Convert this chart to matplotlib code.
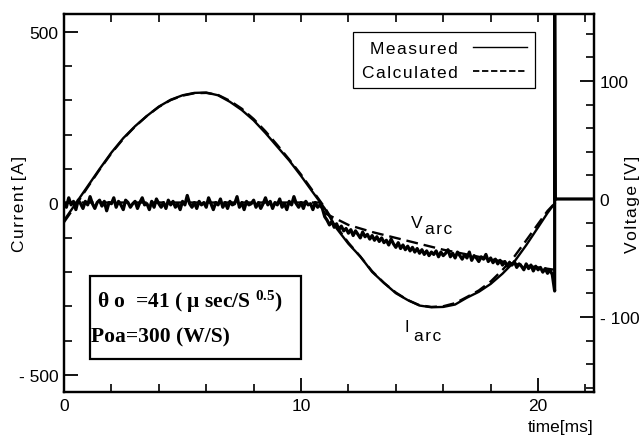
import numpy as np
import matplotlib
matplotlib.use("Agg")
import matplotlib.pyplot as plt
from matplotlib.lines import Line2D
from matplotlib.patches import Rectangle
from matplotlib.ticker import MultipleLocator

plt.rcParams['font.family'] = ['Liberation Sans', 'DejaVu Sans']

# ---------------- data ----------------
# arc current [A]
t_cur = [0.0, 0.5, 1.0, 1.5, 2.0, 2.5, 3.0, 3.5, 4.0, 4.5, 5.0, 5.5, 6.0, 6.5,
         7.0, 7.5, 8.0, 8.5, 9.0, 9.5, 10.0, 10.5, 11.0, 11.5, 12.0, 12.5,
         13.0, 13.5, 14.0, 14.5, 15.0, 15.5, 16.0, 16.5, 17.0, 17.5, 18.0,
         18.5, 19.0, 19.5, 20.0, 20.4, 20.7]
i_meas = [-50, 0, 50, 100, 148, 190, 225, 255, 282, 302, 315, 322, 323, 315,
          296, 272, 242, 205, 165, 125, 80, 32, -15, -73, -118, -155,
          -200, -232, -262, -282, -298, -303, -302, -295, -275, -258, -235,
          -205, -170, -122, -70, -28, 0]
i_calc = [-55, -5, 47, 98, 146, 188, 224, 255, 281, 301, 314, 321, 322, 316,
          299, 276, 246, 210, 170, 128, 84, 36, -12, -68, -115, -155,
          -198, -232, -260, -282, -297, -302, -300, -291, -273, -254, -228,
          -194, -155, -108, -60, -22, 0]

# measured arc voltage [V], sampled every 0.1 ms
t_volt_a = np.linspace(0.0, 10.8, 109)
v_meas_a = [-3, -7, 1, -5, -2, -9, -1, -4, -8, -2,
            -5, 2, -4, -8, -3, -1, -6, -2, -10, -3,
            -4, 1, -7, -2, -5, -9, -1, -3, -7, -4,
            -2, -8, -3, 1, -5, -4, -9, -2, -7, 0,
            -4, -7, -3, -8, -1, -5, -2, -7, -4, -9,
            -2, -5, 3, -4, -7, -3, -8, -2, -5, -3,
            -7, 1, -4, -9, -3, -5, 0, -7, -3, -8,
            -2, -5, -4, 2, -7, -3, -9, -2, -5, -4,
            -1, -7, -3, -8, -4, 1, -5, -2, -8, -3,
            -5, 0, -7, -4, -9, -2, -5, 2, -4, -7,
            -3, -8, -2, -5, -4, -9, -3, -7, -5]
t_volt_b = np.linspace(10.9, 20.6, 98)
v_meas_b = [-8, -15, -18, -22, -19, -24, -21, -26, -23, -27,
            -25, -29, -26, -31, -27, -30, -33, -28, -32, -30,
            -34, -31, -35, -32, -36, -33, -37, -35, -39, -34,
            -38, -41, -37, -42, -39, -43, -40, -44, -41, -45,
            -42, -46, -43, -47, -44, -48, -45, -47, -44, -49,
            -45, -48, -46, -43, -49, -46, -50, -45, -48, -51,
            -47, -50, -45, -52, -48, -50, -53, -49, -51, -47,
            -53, -50, -54, -51, -55, -52, -56, -53, -57, -54,
            -56, -53, -58, -55, -57, -60, -55, -59, -56, -61,
            -57, -60, -58, -62, -59, -63, -60, -64]
t_volt_end = [20.7, 20.7, 20.72, 22.4]
v_meas_end = [-78, 175, 0, 0]

# calculated arc voltage [V]
t_vcalc = [0.0, 10.8, 11.0, 12.0, 13.0, 14.0, 15.0, 16.0, 17.0, 18.0, 19.0,
           20.0, 20.7]
v_calc = [-3, -3, -12, -22, -28, -33, -38, -43, -47, -51, -55, -58, -60]

x_ticks = [0, 10, 20]
x_ticklabels = ["0", "10", "20"]
yl_ticks = [-500, 0, 500]
yl_ticklabels = ["- 500", "0", "500"]
yr_ticks = [-100, 0, 100]
yr_ticklabels = ["- 100", "0", "100"]
legend_labels = ["Measured", "Calculated"]


def spaced(s):
    return "\u200a".join(s)


# ---------------- figure ----------------
fig = plt.figure(figsize=(6.42, 4.39), dpi=100)
ax = fig.add_axes([64 / 642, 46 / 439, 530 / 642, 378 / 439])
ax2 = ax.twinx()

lw = 1.7
dash = (0, (5, 2.5))
ax.plot(t_cur, i_meas, color='black', lw=lw)
ax.plot(t_cur, i_calc, color='black', lw=lw, ls=dash)

t_v = list(t_volt_a) + list(t_volt_b) + t_volt_end
v_m = v_meas_a + v_meas_b + v_meas_end
ax2.plot(t_v, v_m, color='black', lw=2.3)
ax2.plot(t_vcalc, v_calc, color='black', lw=lw, ls=dash)

ax.set_xlim(0, 22.36)
ax.set_ylim(-550, 552)
ax2.set_ylim(-163.6, 156.8)

ax.set_xticks(x_ticks)
ax.set_xticklabels(x_ticklabels)
ax.set_yticks(yl_ticks)
ax.set_yticklabels(yl_ticklabels)
ax2.set_yticks(yr_ticks)
ax2.set_yticklabels(yr_ticklabels)
ax.xaxis.set_minor_locator(MultipleLocator(2))
ax.yaxis.set_minor_locator(MultipleLocator(100))
ax2.yaxis.set_minor_locator(MultipleLocator(20))

ax.tick_params(axis='both', which='major', direction='in', length=10, width=1.3,
               labelsize=12.5, pad=4)
ax.tick_params(axis='both', which='minor', direction='in', length=6, width=1.2)
ax2.tick_params(axis='y', which='major', direction='in', length=10, width=1.3,
                labelsize=12.5, pad=4)
ax2.tick_params(axis='y', which='minor', direction='in', length=6, width=1.2)
# top ticks at 2 ms steps
axt = ax.secondary_xaxis('top')
axt.set_xticks([2, 4, 6, 8, 10, 12, 14, 16, 18, 20, 22])
axt.tick_params(direction='in', length=6, width=1.2, labeltop=False)
axt.spines['top'].set_visible(False)

for a in (ax, ax2):
    for s in a.spines.values():
        s.set_linewidth(1.6)

ax.set_ylabel(spaced("Current") + " " + spaced("[A]"), fontsize=12.5)
ax.yaxis.set_label_coords(-0.070, 0.5)
ax2.set_ylabel(spaced("Voltage") + " " + spaced("[V]"), fontsize=12.5)
ax2.yaxis.set_label_coords(1.058, 0.5)
fig.text(561 / 642, 1 - 428 / 439, "time[ms]", fontsize=12.5,
         ha='center', va='center')

# legend
handles = [Line2D([], [], color='black', lw=1.0),
           Line2D([], [], color='black', lw=1.3, ls=(0, (3.5, 1.5)))]
leg = ax.legend(handles, [spaced(s) for s in legend_labels], loc='upper left',
                bbox_to_anchor=(0.545, 0.952), markerfirst=False,
                fontsize=12.5, handlelength=3.1, handletextpad=0.9,
                borderpad=0.5, labelspacing=0.5, fancybox=False,
                framealpha=1, edgecolor='black', borderaxespad=0)
leg.get_frame().set_linewidth(0.9)

# annotation box
serif = ['Liberation Serif', 'DejaVu Serif']
ax.text(0.062, 0.241, "\u03b8 o  =41 ( \u03bc sec/S $\\mathregular{^{0.5}}$)",
        transform=ax.transAxes, fontsize=15.5, family=serif, weight='bold',
        va='center')
ax.text(0.051, 0.146, "Poa=300 (W/S)", transform=ax.transAxes, fontsize=15.5,
        family=serif, weight='bold', va='center')
ax.add_patch(Rectangle((0.049, 0.087), 0.398, 0.22, transform=ax.transAxes,
                       fill=False, lw=1.6, ec='black'))

# curve labels
ax2.text(14.9, -20, "V", fontsize=12.5, ha='center', va='center')
ax2.text(15.8, -25, spaced("arc"), fontsize=12.5, ha='center', va='center')
ax.text(14.47, -360, "I", fontsize=12, ha='center', va='center')
ax.text(15.36, -385, spaced("arc"), fontsize=12.5, ha='center', va='center')

fig.savefig("out.png", dpi=100)
